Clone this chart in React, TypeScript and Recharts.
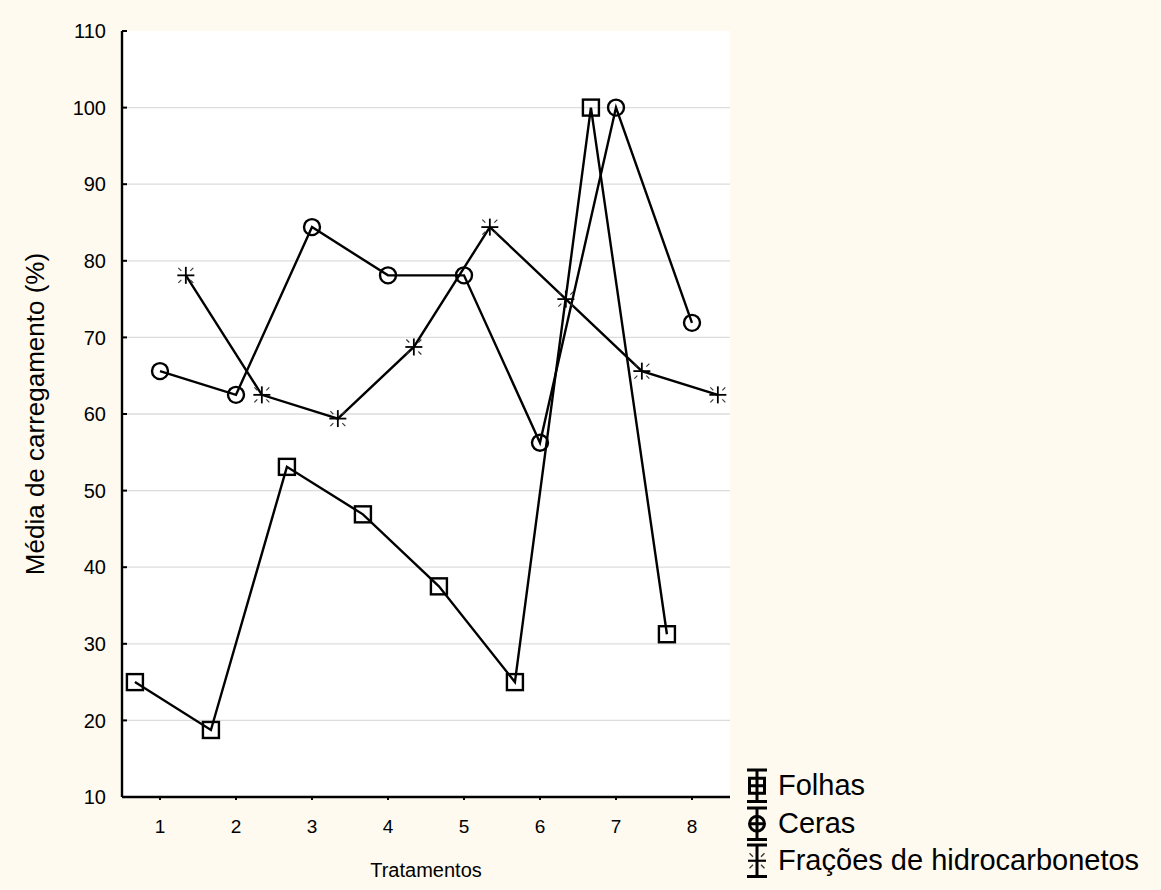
import { LineChart, Line, XAxis, YAxis, CartesianGrid, Legend, Label } from 'recharts';

// Tratamentos 1..8, three series slightly shifted around each category
const categories = [1, 2, 3, 4, 5, 6, 7, 8];
const folhas = [25, 18.75, 53.1, 46.9, 37.5, 25, 100, 31.25];
const ceras = [65.6, 62.5, 84.4, 78.1, 78.1, 56.25, 100, 71.9];
const fracoes = [78.1, 62.5, 59.4, 68.75, 84.4, 75, 65.6, 62.5];

const seriesNames = ['Folhas', 'Ceras', 'Frações de hidrocarbonetos'];

const yTicks = [10, 20, 30, 40, 50, 60, 70, 80, 90, 100, 110];
const gridValues = [20, 30, 40, 50, 60, 70, 80, 90, 100];

const FONT = '"Liberation Sans", Arial, sans-serif';
const LW = 2.4;

const toPoints = (values: number[], shift: number) =>
  categories.map((c, i) => ({ x: c + shift, y: values[i] }));

const folhasData = toPoints(folhas, -0.33);
const cerasData = toPoints(ceras, 0);
const fracoesData = toPoints(fracoes, 0.34);

function SquareDot(props: any) {
  const { cx, cy, index } = props;
  if (cx == null || cy == null) return null;
  return (
    <rect key={`sq-${index}`} x={cx - 8} y={cy - 8} width={16} height={16}
      fill="none" stroke="#000" strokeWidth={LW} />
  );
}

function CircleDot(props: any) {
  const { cx, cy, index } = props;
  if (cx == null || cy == null) return null;
  return <circle key={`ci-${index}`} cx={cx} cy={cy} r={8} fill="none" stroke="#000" strokeWidth={LW} />;
}

function StarDot(props: any) {
  const { cx, cy, index } = props;
  if (cx == null || cy == null) return null;
  const r = 8.5;
  return (
    <g key={`st-${index}`}>
      <line x1={cx - r} y1={cy} x2={cx + r} y2={cy} stroke="#000" strokeWidth={1.8} />
      <line x1={cx} y1={cy - r} x2={cx} y2={cy + r} stroke="#000" strokeWidth={1.8} />
      {[[1, 1], [1, -1], [-1, 1], [-1, -1]].map(([sx, sy], k) => (
        <line key={k} x1={cx + sx * 4.5} y1={cy + sy * 4.5} x2={cx + sx * 7.5} y2={cy + sy * 7.5}
          stroke="#333" strokeWidth={1.2} />
      ))}
    </g>
  );
}

const ROW = 37.5;
const IW = 3;

function LegendIcon({ kind }: { kind: number }) {
  const c = 12;
  const m = ROW / 2;
  return (
    <svg width={24} height={ROW} style={{ display: 'block', flexShrink: 0 }}>
      <line x1={2} y1={3} x2={22} y2={3} stroke="#000" strokeWidth={IW} />
      <line x1={2} y1={ROW - 3} x2={22} y2={ROW - 3} stroke="#000" strokeWidth={IW} />
      <line x1={c} y1={3} x2={c} y2={ROW - 3} stroke="#000" strokeWidth={IW} />
      {kind === 0 && (
        <>
          <rect x={c - 7.5} y={m - 7.5} width={15} height={15} fill="none" stroke="#000" strokeWidth={IW} />
          <line x1={c - 7.5} y1={m} x2={c + 7.5} y2={m} stroke="#000" strokeWidth={IW} />
        </>
      )}
      {kind === 1 && (
        <>
          <circle cx={c} cy={m} r={7.5} fill="none" stroke="#000" strokeWidth={IW} />
          <line x1={c - 7.5} y1={m} x2={c + 7.5} y2={m} stroke="#000" strokeWidth={IW} />
        </>
      )}
      {kind === 2 && (
        <>
          <line x1={c - 9} y1={m} x2={c + 9} y2={m} stroke="#000" strokeWidth={2.2} />
          {[[1, 1], [1, -1], [-1, 1], [-1, -1]].map(([sx, sy], k) => (
            <line key={k} x1={c + sx * 4} y1={m + sy * 4} x2={c + sx * 7.5} y2={m + sy * 7.5}
              stroke="#333" strokeWidth={1.3} />
          ))}
        </>
      )}
    </svg>
  );
}

function renderLegend() {
  return (
    <div style={{ fontFamily: FONT, fontSize: 29, color: '#000' }}>
      {seriesNames.map((name, i) => (
        <div key={name} style={{ display: 'flex', alignItems: 'center', height: ROW }}>
          <LegendIcon kind={i} />
          <span style={{ marginLeft: 9, whiteSpace: 'nowrap' }}>{name}</span>
        </div>
      ))}
    </div>
  );
}

export default function App() {
  return (
    <div style={{ position: 'absolute', left: 0, top: 0, width: 1161, height: 890, background: '#fefaef', fontFamily: FONT }}>
      <LineChart width={1161} height={890} margin={{ top: 31, right: 431, bottom: 0, left: 0 }}>
        <CartesianGrid vertical={false} fill="#ffffff" stroke="#dcdcdc" strokeWidth={1.3} horizontalValues={gridValues} />
        <XAxis
          type="number"
          dataKey="x"
          domain={[0.5, 8.5]}
          ticks={categories}
          height={93}
          axisLine={{ stroke: '#000', strokeWidth: 2.4 }}
          tickLine={{ stroke: '#000', strokeWidth: 2 }}
          tickSize={3}
          tickMargin={20}
          tick={{ fontSize: 19, fill: '#000', fontFamily: FONT }}
          allowDataOverflow
        >
          <Label value="Tratamentos" position="insideBottom" offset={13}
            style={{ fontSize: 20, fill: '#000', fontFamily: FONT }} />
        </XAxis>
        <YAxis
          type="number"
          domain={[10, 110]}
          ticks={yTicks}
          width={122}
          axisLine={{ stroke: '#000', strokeWidth: 2.4 }}
          tickLine={{ stroke: '#000', strokeWidth: 2 }}
          tickSize={-5}
          tickMargin={21}
          tick={{ fontSize: 20, fill: '#000', fontFamily: FONT }}
          interval={0}
        >
          <Label value="Média de carregamento (%)" angle={-90} position="insideLeft" offset={35}
            style={{ fontSize: 26, fill: '#000', fontFamily: FONT, textAnchor: 'middle' }} />
        </YAxis>
        <Legend
          layout="vertical"
          align="center"
          verticalAlign="middle"
          content={renderLegend}
          wrapperStyle={{ left: 745, top: 767, width: 416, height: 'auto' }}
        />
        <Line name="Folhas" data={folhasData} dataKey="y" stroke="#000" strokeWidth={LW}
          dot={SquareDot} activeDot={false} isAnimationActive={false} />
        <Line name="Ceras" data={cerasData} dataKey="y" stroke="#000" strokeWidth={LW}
          dot={CircleDot} activeDot={false} isAnimationActive={false} />
        <Line name="Frações de hidrocarbonetos" data={fracoesData} dataKey="y" stroke="#000" strokeWidth={LW}
          dot={StarDot} activeDot={false} isAnimationActive={false} />
      </LineChart>
    </div>
  );
}
